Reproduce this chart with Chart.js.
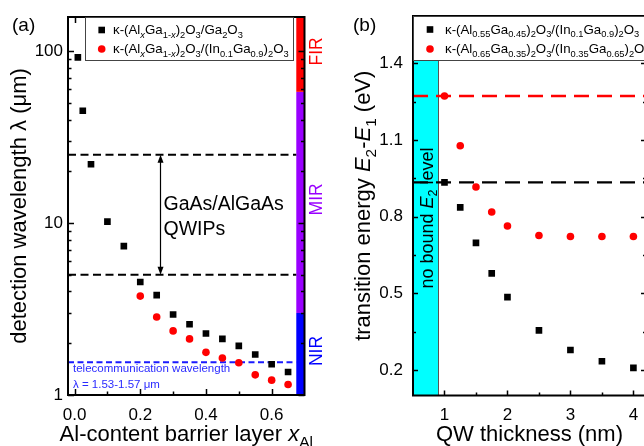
<!DOCTYPE html>
<html lang="en">
<head>
<meta charset="UTF-8">
<title>QWIP detection wavelength and transition energy</title>
<style>
  html, body { margin: 0; padding: 0; background: #fff; overflow: hidden; }
  body { width: 644px; height: 446px; position: relative; }
  .panel { position: absolute; top: 0; height: 446px; }
  #wrapA { left: 0; width: 330px; }
  #wrapB { left: 330px; width: 340px; }
</style>
</head>
<body>
<div class="panel" id="wrapA"><canvas id="chartA"></canvas></div>
<div class="panel" id="wrapB"><canvas id="chartB"></canvas></div>

<script src="https://cdn.jsdelivr.net/npm/chart.js"></script>
<script>
// ---- panel (a): detection wavelength vs Al content of the barrier ----
const xAlGa2O3 = [0.01, 0.025, 0.05, 0.1, 0.15, 0.2, 0.25, 0.3, 0.35, 0.4, 0.45, 0.5, 0.55, 0.6, 0.65];
const lambdaGa2O3 = [92, 45, 22, 10.2, 7.35, 4.54, 3.81, 2.94, 2.58, 2.28, 2.12, 1.93, 1.72, 1.51, 1.36];
const xAlInGaO = [0.2, 0.25, 0.3, 0.35, 0.4, 0.45, 0.5, 0.55, 0.6, 0.65];
const lambdaInGaO = [3.76, 2.84, 2.36, 2.12, 1.77, 1.64, 1.54, 1.31, 1.22, 1.15];
const qwipLimits = [25, 5];          // GaAs/AlGaAs QWIP range (um)
const telecomLambda = 1.55;          // um
const arrowX = 0.26;
const bandNames = ['NIR', 'MIR', 'FIR'];
const bandFrom = [1, 3, 58];
const bandTo = [3, 58, 158];
const bandColors = ['#0000ff', '#9900ff', '#ff0000'];
const bandStartX = 0.675;
const aXMajor = [0, 0.2, 0.4, 0.6];
const aXMinor = [0.1, 0.3, 0.5];
const aYMajor = [1, 10, 100];
const aYMinor = [2, 3, 4, 5, 6, 7, 8, 9, 20, 30, 40, 50, 60, 70, 80, 90];

// ---- panel (b): transition energy vs QW thickness ----
const qwThickness = [1, 1.25, 1.5, 1.75, 2, 2.5, 3, 3.5, 4];
const dE055 = [0.934, 0.836, 0.697, 0.578, 0.485, 0.355, 0.278, 0.234, 0.208];
const dE065 = [1.272, 1.077, 0.916, 0.818, 0.763, 0.726, 0.722, 0.722, 0.722];
const levelLines = [0.934, 1.272];
const noBoundRange = [0.5, 0.9];
const bXMajor = [1, 2, 3, 4];
const bXMinor = [1.5, 2.5, 3.5];
const bYMajor = [0.2, 0.5, 0.8, 1.1, 1.4];
const bYMinor = [0.35, 0.65, 0.95, 1.25];

const FONT = '"Liberation Sans", Arial, Helvetica, sans-serif';

// tiny rich text: _{..} subscript, *..* italic
function parseRich(str) {
  const runs = [];
  let sub = false, it = false, buf = '';
  const flush = () => { if (buf) runs.push({ t: buf, sub, it }); buf = ''; };
  for (let i = 0; i < str.length; i++) {
    const c = str[i];
    if (c === '_' && str[i + 1] === '{') { flush(); sub = true; i++; }
    else if (c === '}' && sub) { flush(); sub = false; }
    else if (c === '*') { flush(); it = !it; }
    else buf += c;
  }
  flush();
  return runs;
}

function drawRich(ctx, str, x, y, size, color, align) {
  const runs = parseRich(str).map(r => {
    const sz = r.sub ? size * 0.7 : size;
    const font = (r.it ? 'italic ' : '') + sz + 'px ' + FONT;
    ctx.font = font;
    return Object.assign(r, { font, w: ctx.measureText(r.t).width, dy: r.sub ? size * 0.25 : 0 });
  });
  const total = runs.reduce((s, r) => s + r.w, 0);
  let cx = align === 'center' ? x - total / 2 : (align === 'right' ? x - total : x);
  ctx.fillStyle = color;
  ctx.textAlign = 'left';
  ctx.textBaseline = 'alphabetic';
  const base = y + size * 0.33;
  runs.forEach(r => { ctx.font = r.font; ctx.fillText(r.t, cx, base + r.dy); cx += r.w; });
}

function drawRichRotated(ctx, str, x, y, size, color) {
  ctx.save();
  ctx.translate(x, y);
  ctx.rotate(-Math.PI / 2);
  drawRich(ctx, str, 0, 0, size, color, 'center');
  ctx.restore();
}

function tickList(major, minor) {
  return major.map(v => ({ value: v, major: true }))
    .concat(minor.map(v => ({ value: v, major: false })))
    .sort((a, b) => a.value - b.value);
}

// inward ticks on all four sides + frame
function drawFrame(chart, majLen, minLen) {
  const { ctx, chartArea: a } = chart;
  const x = chart.scales.x, y = chart.scales.y;
  ctx.save();
  ctx.strokeStyle = '#000';
  ctx.lineWidth = 1.5;
  ctx.beginPath();
  x.ticks.forEach(t => {
    const px = Math.round(x.getPixelForValue(t.value)) + 0.5;
    const len = t.major ? majLen : minLen;
    ctx.moveTo(px, a.bottom); ctx.lineTo(px, a.bottom - len);
    ctx.moveTo(px, a.top); ctx.lineTo(px, a.top + len);
  });
  y.ticks.forEach(t => {
    const py = Math.round(y.getPixelForValue(t.value)) + 0.5;
    const len = t.major ? majLen : minLen;
    ctx.moveTo(a.left, py); ctx.lineTo(a.left + len, py);
    ctx.moveTo(a.right, py); ctx.lineTo(a.right - len, py);
  });
  ctx.stroke();
  ctx.lineWidth = 2;
  ctx.strokeRect(a.left, a.top, a.right - a.left, a.bottom - a.top);
  ctx.restore();
}

function drawLegend(ctx, box, rows, size) {
  ctx.save();
  ctx.fillStyle = '#fff';
  ctx.fillRect(box.x, box.y, box.w, box.h);
  ctx.strokeStyle = '#444';
  ctx.lineWidth = 1;
  ctx.strokeRect(box.x + 0.5, box.y + 0.5, box.w, box.h);
  rows.forEach(r => {
    ctx.fillStyle = r.color;
    if (r.shape === 'rect') {
      ctx.fillRect(r.mx - 3.3, r.my - 3.3, 6.6, 6.6);
    } else {
      ctx.beginPath(); ctx.arc(r.mx, r.my, 3.8, 0, Math.PI * 2); ctx.fill();
    }
    drawRich(ctx, r.text, r.tx, r.my, size, '#000', 'left');
  });
  ctx.restore();
}

function scaleOpts(common) {
  return Object.assign({
    grid: { display: false, drawTicks: false },
    border: { display: false },
    ticks: {}
  }, common);
}

function tickFont(size) {
  return { family: FONT, size: size };
}

const panelA = {
  id: 'panelA',
  beforeDatasetsDraw(chart) {
    const { ctx, chartArea: a, scales: { x, y } } = chart;
    const x0 = x.getPixelForValue(bandStartX);
    ctx.save();
    bandNames.forEach((n, i) => {
      const yTop = Math.max(y.getPixelForValue(bandTo[i]), a.top);
      const yBot = Math.min(y.getPixelForValue(bandFrom[i]), a.bottom);
      ctx.fillStyle = bandColors[i];
      ctx.fillRect(x0, yTop, a.right - x0, yBot - yTop);
    });
    ctx.restore();
  },
  afterDatasetsDraw(chart) {
    const { ctx, chartArea: a, scales: { x, y } } = chart;
    ctx.save();
    // double arrow for the GaAs/AlGaAs QWIP range
    const ax = Math.round(x.getPixelForValue(arrowX)) + 0.5;
    const yT = y.getPixelForValue(qwipLimits[0]);
    const yB = y.getPixelForValue(qwipLimits[1]);
    ctx.strokeStyle = '#000';
    ctx.fillStyle = '#000';
    ctx.lineWidth = 1.2;
    ctx.beginPath(); ctx.moveTo(ax, yT + 6); ctx.lineTo(ax, yB - 6); ctx.stroke();
    ctx.beginPath(); ctx.moveTo(ax, yT); ctx.lineTo(ax - 3, yT + 8); ctx.lineTo(ax + 3, yT + 8); ctx.closePath(); ctx.fill();
    ctx.beginPath(); ctx.moveTo(ax, yB); ctx.lineTo(ax - 3, yB - 8); ctx.lineTo(ax + 3, yB - 8); ctx.closePath(); ctx.fill();
    drawRich(ctx, 'GaAs/AlGaAs', ax + 3, 204, 19.5, '#000', 'left');
    drawRich(ctx, 'QWIPs', ax + 3, 229, 19.5, '#000', 'left');
    // telecom window note
    drawRich(ctx, 'telecommunication wavelength', a.left + 5, 368, 11.5, '#2a2aff', 'left');
    drawRich(ctx, 'λ = 1.53-1.57 μm', a.left + 5, 384, 11.5, '#2a2aff', 'left');
    ctx.restore();

    drawFrame(chart, 6, 3.5);

    drawLegend(ctx, { x: a.left + 17, y: a.top, w: 208, h: 43 }, [
      { shape: 'rect', color: '#000', mx: 101.7, my: 30, tx: 113, text: 'κ-(Al_{*x*}Ga_{1-*x*})_{2}O_{3}/Ga_{2}O_{3}' },
      { shape: 'circle', color: '#ff0000', mx: 101.7, my: 49, tx: 113, text: 'κ-(Al_{*x*}Ga_{1-*x*})_{2}O_{3}/(In_{0.1}Ga_{0.9})_{2}O_{3}' }
    ], 13.3);

    // band labels right of the frame
    bandNames.forEach((n, i) => {
      const lc = Math.sqrt(Math.max(bandFrom[i], y.min) * Math.min(bandTo[i], y.max));
      drawRichRotated(ctx, n, 316, y.getPixelForValue(lc) - 3, 17.5, bandColors[i]);
    });

    // titles
    drawRich(ctx, 'Al-content barrier layer *x*_{Al}', (a.left + a.right) / 2, 434, 22, '#000', 'center');
    drawRichRotated(ctx, 'detection wavelength λ (μm)', 19, (a.top + a.bottom) / 2, 22, '#000');
    drawRich(ctx, '(a)', 12, 25, 19, '#000', 'left');
  }
};

const panelB = {
  id: 'panelB',
  beforeDatasetsDraw(chart) {
    const { ctx, chartArea: a, scales: { x } } = chart;
    const x0 = x.getPixelForValue(noBoundRange[0]);
    const x1 = x.getPixelForValue(noBoundRange[1]);
    ctx.save();
    ctx.fillStyle = '#00ffff';
    ctx.fillRect(x0, a.top, x1 - x0, a.bottom - a.top);
    ctx.strokeStyle = '#555';
    ctx.lineWidth = 1;
    ctx.beginPath(); ctx.moveTo(Math.round(x1) + 0.5, a.top); ctx.lineTo(Math.round(x1) + 0.5, a.bottom); ctx.stroke();
    ctx.restore();
  },
  afterDatasetsDraw(chart) {
    const { ctx, chartArea: a, scales: { x } } = chart;
    const xc = (x.getPixelForValue(noBoundRange[0]) + x.getPixelForValue(noBoundRange[1])) / 2;
    drawRichRotated(ctx, 'no bound *E*_{2} level', xc + 1, 218, 18, '#000');

    drawFrame(chart, 5, 3);

    const ox = 330;
    drawLegend(ctx, { x: a.left, y: a.top, w: a.right - a.left + 10, h: 44 }, [
      { shape: 'rect', color: '#000', mx: 430 - ox, my: 29.5, tx: 445 - ox, text: 'κ-(Al_{0.55}Ga_{0.45})_{2}O_{3}/(In_{0.1}Ga_{0.9})_{2}O_{3}' },
      { shape: 'circle', color: '#ff0000', mx: 430 - ox, my: 49, tx: 445 - ox, text: 'κ-(Al_{0.65}Ga_{0.35})_{2}O_{3}/(In_{0.35}Ga_{0.65})_{2}O_{3}' }
    ], 13.3);

    drawRich(ctx, 'QW thickness (nm)', (a.left + a.right) / 2, 434, 22, '#000', 'center');
    drawRichRotated(ctx, 'transition energy *E*_{2}-*E*_{1} (eV)', 363 - ox, (a.top + a.bottom) / 2, 22, '#000');
    drawRich(ctx, '(b)', 353 - ox, 25, 19, '#000', 'left');
  }
};

function noPad(s) { s.paddingTop = 0; s.paddingBottom = 0; s.paddingLeft = 0; s.paddingRight = 0; }

new Chart(document.getElementById('chartA'), {
  type: 'scatter',
  data: {
    datasets: [
      { data: xAlGa2O3.map((v, i) => ({ x: v, y: lambdaGa2O3[i] })), pointStyle: 'rect', pointRadius: 4.7, backgroundColor: '#000', borderWidth: 0 },
      { data: xAlInGaO.map((v, i) => ({ x: v, y: lambdaInGaO[i] })), pointStyle: 'circle', pointRadius: 3.8, backgroundColor: '#ff0000', borderWidth: 0 },
      { data: [{ x: -0.02, y: qwipLimits[0] }, { x: bandStartX, y: qwipLimits[0] }], showLine: true, pointRadius: 0, borderColor: '#000', borderWidth: 2, borderDash: [8, 4.5] },
      { data: [{ x: -0.02, y: qwipLimits[1] }, { x: bandStartX, y: qwipLimits[1] }], showLine: true, pointRadius: 0, borderColor: '#000', borderWidth: 2, borderDash: [8, 4.5] },
      { data: [{ x: -0.02, y: telecomLambda }, { x: bandStartX, y: telecomLambda }], showLine: true, pointRadius: 0, borderColor: '#1a1aff', borderWidth: 2, borderDash: [6, 3.5] }
    ]
  },
  options: {
    responsive: true,
    maintainAspectRatio: false,
    animation: false,
    layout: { padding: { top: 17, right: 25.5, left: 0, bottom: 0 } },
    plugins: { legend: { display: false }, tooltip: { enabled: false } },
    scales: {
      x: scaleOpts({
        type: 'linear', min: -0.02, max: 0.7,
        afterBuildTicks: s => { s.ticks = tickList(aXMajor, aXMinor); },
        afterFit: s => { s.height = 51; noPad(s); },
        ticks: { autoSkip: false, maxRotation: 0, padding: 10, color: '#000', font: tickFont(17),
          callback: (v, i, t) => t[i].major ? v.toFixed(1) : '' }
      }),
      y: scaleOpts({
        type: 'logarithmic', min: 1, max: 158,
        afterBuildTicks: s => { s.ticks = tickList(aYMajor, aYMinor); },
        afterFit: s => { s.width = 68; noPad(s); },
        ticks: { autoSkip: false, padding: 5, color: '#000', font: tickFont(17),
          callback: (v, i, t) => t[i].major ? String(v) : '' }
      })
    }
  },
  plugins: [panelA]
});

new Chart(document.getElementById('chartB'), {
  type: 'scatter',
  data: {
    datasets: [
      { data: qwThickness.map((v, i) => ({ x: v, y: dE055[i] })), pointStyle: 'rect', pointRadius: 4.7, backgroundColor: '#000', borderWidth: 0 },
      { data: qwThickness.map((v, i) => ({ x: v, y: dE065[i] })), pointStyle: 'circle', pointRadius: 3.8, backgroundColor: '#ff0000', borderWidth: 0 },
      { data: [{ x: 0.5, y: levelLines[0] }, { x: 4.2, y: levelLines[0] }], showLine: true, pointRadius: 0, borderColor: '#000', borderWidth: 2.3, borderDash: [15, 8] },
      { data: [{ x: 0.5, y: levelLines[1] }, { x: 4.2, y: levelLines[1] }], showLine: true, pointRadius: 0, borderColor: '#ff0000', borderWidth: 2.3, borderDash: [15, 8] }
    ]
  },
  options: {
    responsive: true,
    maintainAspectRatio: false,
    animation: false,
    layout: { padding: { top: 16, right: 24, left: 0, bottom: 0 } },
    plugins: { legend: { display: false }, tooltip: { enabled: false } },
    scales: {
      x: scaleOpts({
        type: 'linear', min: 0.5, max: 4.2,
        afterBuildTicks: s => { s.ticks = tickList(bXMajor, bXMinor); },
        afterFit: s => { s.height = 50.5; noPad(s); },
        ticks: { autoSkip: false, maxRotation: 0, padding: 10, color: '#000', font: tickFont(17),
          callback: (v, i, t) => t[i].major ? String(v) : '' }
      }),
      y: scaleOpts({
        type: 'linear', min: 0.1, max: 1.585,
        afterBuildTicks: s => { s.ticks = tickList(bYMajor, bYMinor); },
        afterFit: s => { s.width = 83; noPad(s); },
        ticks: { autoSkip: false, padding: 10, color: '#000', font: tickFont(17),
          callback: (v, i, t) => t[i].major ? v.toFixed(1) : '' }
      })
    }
  },
  plugins: [panelB]
});
</script>
</body>
</html>
